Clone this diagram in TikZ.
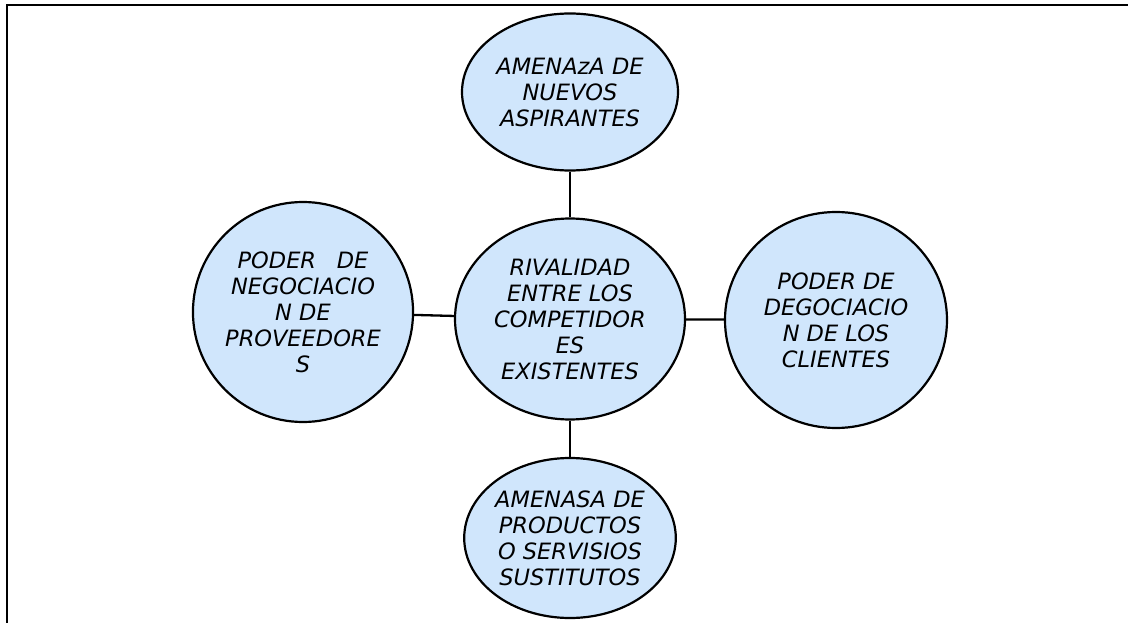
\documentclass[tikz,border=0pt]{standalone}
\usepackage{fontspec}
\setmainfont{DejaVu Sans}
\usetikzlibrary{shapes.geometric}
\definecolor{bubble}{RGB}{208,230,252}
\tikzset{
  bub/.style={ellipse, draw=black, line width=2.2pt, fill=bubble, inner sep=0pt,
    align=center, font=\fontsize{22.5}{26}\selectfont\itshape},
  link/.style={draw=black, line width=2.3pt},
  frame/.style={draw=black, line width=1.8pt}
}
\begin{document}
\begin{tikzpicture}[x=1pt,y=-1pt]
\useasboundingbox (0,0) rectangle (1128,623);
\coordinate (fa) at (7,623);
\coordinate (fb) at (7,5);
\coordinate (fc) at (1128,5);
\draw[frame] (fa) -- (fb) -- (fc);
\node[bub, minimum width=216pt, minimum height=157pt] (top) at (570,92)
  {AMENAzA DE\\NUEVOS\\ASPIRANTES};
\node[bub, minimum width=230pt, minimum height=201pt] (mid) at (570,319)
  {RIVALIDAD\\ENTRE LOS\\COMPETIDOR\\ES\\EXISTENTES};
\node[bub, minimum width=220pt, minimum height=220pt] (lft) at (303,312)
  {PODER\hspace{0.6em} DE\\NEGOCIACIO\\N DE\\PROVEEDORE\\S};
\node[bub, minimum width=222pt, minimum height=216pt] (rgt) at (836,320)
  {PODER DE\\DEGOCIACIO\\N DE LOS\\CLIENTES};
\node[bub, minimum width=210pt, minimum height=160pt] (bot) at (570,538)
  {AMENASA DE\\PRODUCTOS\\O SERVISIOS\\SUSTITUTOS};
\draw[link] (top) -- (mid);
\draw[link] (mid) -- (bot);
\draw[link] (lft) -- (mid);
\draw[link] (mid) -- (rgt);
\end{tikzpicture}
\end{document}
